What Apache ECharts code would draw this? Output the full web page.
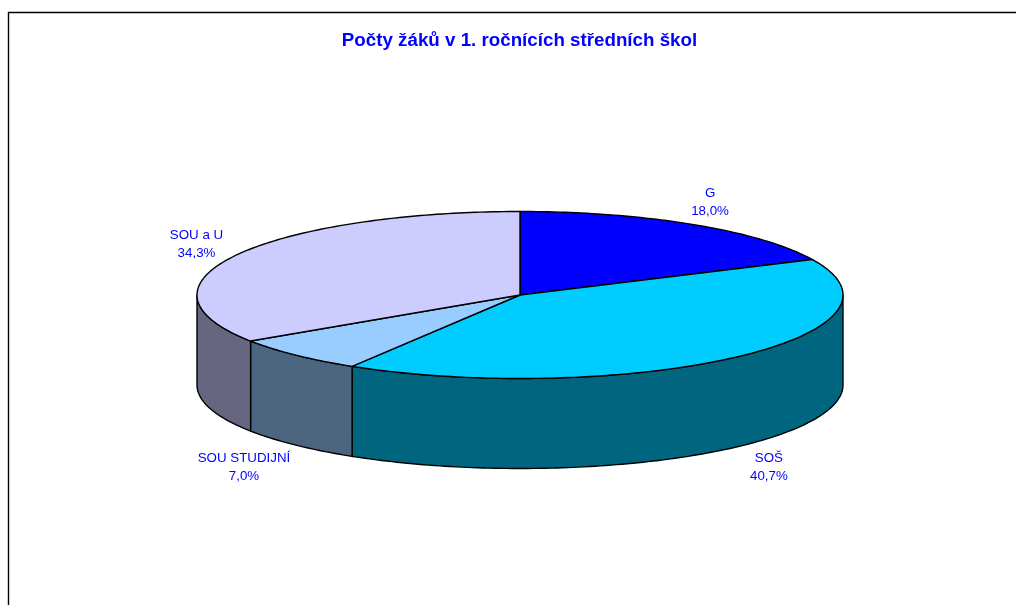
<!DOCTYPE html>
<html>
<head>
<meta charset="utf-8">
<title>Počty žáků</title>
<script src="https://cdn.jsdelivr.net/npm/echarts@6/dist/echarts.min.js"></script>
<style>
  html, body { margin: 0; padding: 0; background: #fff; }
  #chart { width: 1016px; height: 605px; }
</style>
</head>
<body>
<div id="chart"></div>
<script>
  // hodnoty z grafu (%)
  const categories = ['G', 'SOŠ', 'SOU STUDIJNÍ', 'SOU a U'];
  const shares = [18.0, 40.7, 7.0, 34.3];
  const topColors = ['#0000ff', '#00ccff', '#99ccff', '#ccccff'];
  const wallColors = ['#000080', '#006680', '#4d6680', '#666680'];

  // geometrie koláče
  const cx = 520, cy = 295, rx = 323, ry = 83.5, depth = 90;
  // posun popisku od okraje výseče
  const labelOffsets = [[17, -22.5], [33, 20.5], [-52, 22.5], [-39, -11]];

  const total = shares.reduce((a, b) => a + b, 0);
  const rows = shares.map((s, i) => {
    const before = shares.slice(0, i).reduce((a, b) => a + b, 0);
    return [before, s];
  });

  function rim(deg, dy) {
    const r = deg * Math.PI / 180;
    return [cx + rx * Math.sin(r), cy - ry * Math.cos(r) + (dy || 0)];
  }
  function arc(from, to, dy) {
    const pts = [];
    const n = Math.max(2, Math.ceil(Math.abs(to - from)));
    for (let k = 0; k <= n; k++) pts.push(rim(from + (to - from) * k / n, dy));
    return pts;
  }

  function renderWall(params, api) {
    const a0 = Math.max(api.value(0) / total * 360, 90);
    const a1 = Math.min((api.value(0) + api.value(1)) / total * 360, 270);
    if (a1 <= a0) return { type: 'group', children: [] };
    return {
      type: 'polygon',
      shape: { points: arc(a0, a1, 0).concat(arc(a1, a0, depth)) },
      style: { fill: wallColors[params.dataIndex], stroke: '#000', lineWidth: 1.4 }
    };
  }

  function renderTop(params, api) {
    const i = params.dataIndex;
    const a0 = api.value(0) / total * 360;
    const a1 = (api.value(0) + api.value(1)) / total * 360;
    const mid = (a0 + a1) / 2;
    const front = mid > 90 && mid < 270;
    const p = rim(mid, front ? depth : 0);
    return {
      type: 'group',
      children: [{
        type: 'polygon',
        shape: { points: [[cx, cy]].concat(arc(a0, a1, 0)) },
        style: { fill: topColors[i], stroke: '#000', lineWidth: 1.4 }
      }, {
        type: 'text',
        x: p[0] + labelOffsets[i][0],
        y: p[1] + labelOffsets[i][1],
        style: {
          text: categories[i] + '\n' + api.value(1).toFixed(1).replace('.', ',') + '%',
          fill: '#0000ff',
          font: '13.33px "Liberation Sans", Arial, sans-serif',
          lineHeight: 18,
          align: 'center',
          verticalAlign: 'middle'
        }
      }]
    };
  }

  const chart = echarts.init(document.getElementById('chart'), null, { renderer: 'canvas' });
  chart.setOption({
    animation: false,
    backgroundColor: '#fff',
    tooltip: { show: false },
    title: {
      text: 'Počty žáků v 1. ročnících středních škol',
      left: 514.5,
      top: 26,
      textAlign: 'center',
      textStyle: { color: '#0000ff', fontFamily: '"Liberation Sans", Arial, sans-serif', fontSize: 18.75, fontWeight: 'bold' }
    },
    graphic: [{
      type: 'polyline',
      silent: true,
      shape: { points: [[8.5, 605], [8.5, 12.5], [1016, 12.5]] },
      style: { fill: null, stroke: '#000', lineWidth: 1.4 }
    }],
    series: [
      { type: 'custom', coordinateSystem: 'none', silent: true, renderItem: renderWall, data: rows },
      { type: 'custom', coordinateSystem: 'none', silent: true, renderItem: renderTop, data: rows }
    ]
  });
</script>
</body>
</html>
